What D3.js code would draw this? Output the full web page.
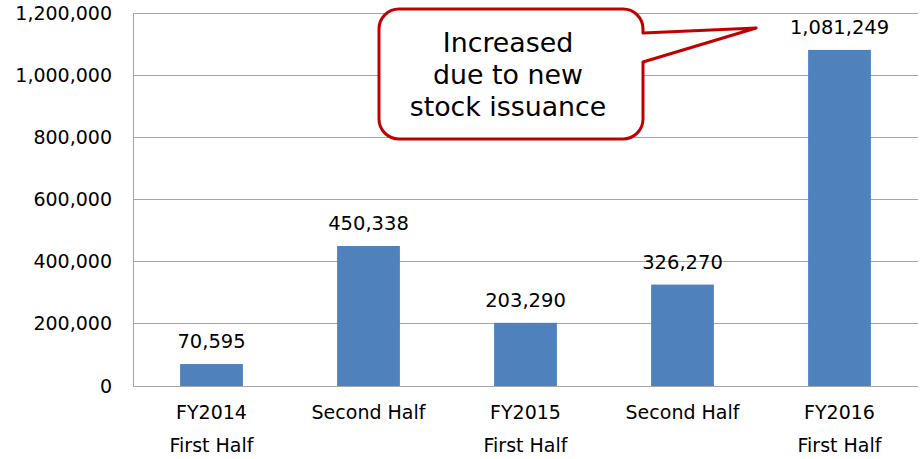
<!DOCTYPE html>
<html>
<head>
<meta charset="utf-8">
<script src="https://cdn.jsdelivr.net/npm/d3@7"></script>
<style>
  html, body { margin: 0; padding: 0; background: #fff; }
  svg { display: block; font-family: "DejaVu Sans", Verdana, sans-serif; }
</style>
</head>
<body>
<svg id="chart" width="921" height="459"></svg>
<script>
const categories = ["FY2014\nFirst Half", "Second Half", "FY2015\nFirst Half", "Second Half ", "FY2016\nFirst Half"];
const values = [70595, 450338, 203290, 326270, 1081249];
const yTicks = [0, 200000, 400000, 600000, 800000, 1000000, 1200000];
const calloutLines = ["Increased", "due to new", "stock issuance"];

const svg = d3.select("#chart");
const margin = { left: 133, right: 3, top: 13, bottom: 73 };
const W = 921, H = 459;

const x = d3.scaleBand().domain(categories).range([margin.left, W - margin.right]).paddingInner(0.6).paddingOuter(0.3);
const y = d3.scaleLinear().domain([0, 1200000]).range([H - margin.bottom, margin.top]);

const fmt = d3.format(",");
const FS = 19;

// gridlines
svg.append("g")
  .selectAll("line").data(yTicks.slice(1)).join("line")
  .attr("x1", margin.left).attr("x2", W - margin.right)
  .attr("y1", d => y(d)).attr("y2", d => y(d))
  .attr("stroke", "#a6a6a6").attr("stroke-width", 1).attr("shape-rendering", "crispEdges");

// y axis
const yAxis = svg.append("g").attr("transform", `translate(${margin.left},0)`)
  .call(d3.axisLeft(y).tickValues(yTicks).tickFormat(fmt).tickSize(0).tickPadding(21));
yAxis.select(".domain").attr("stroke", "#a6a6a6").attr("shape-rendering", "crispEdges");
yAxis.selectAll("text").attr("font-size", FS).attr("fill", "#000").attr("font-family", "DejaVu Sans, sans-serif");

// x axis baseline
svg.append("line")
  .attr("x1", margin.left).attr("x2", W - margin.right)
  .attr("y1", y(0)).attr("y2", y(0))
  .attr("stroke", "#a6a6a6").attr("shape-rendering", "crispEdges");

// bars
svg.append("g").selectAll("rect").data(values).join("rect")
  .attr("x", (d, i) => x(categories[i]))
  .attr("width", x.bandwidth())
  .attr("y", d => y(d))
  .attr("height", d => y(0) - y(d))
  .attr("fill", "#4f81bd");

// data labels
svg.append("g").selectAll("text").data(values).join("text")
  .attr("x", (d, i) => x(categories[i]) + x.bandwidth() / 2)
  .attr("y", d => y(d) - 16)
  .attr("text-anchor", "middle")
  .attr("font-size", FS + 0.5).attr("fill", "#000")
  .text(d => fmt(d));

// x labels
const xl = svg.append("g").selectAll("text").data(categories).join("text")
  .attr("x", d => x(d) + x.bandwidth() / 2)
  .attr("y", y(0) + 33)
  .attr("text-anchor", "middle")
  .attr("font-size", FS).attr("fill", "#000");
xl.each(function(d) {
  const lines = d.trim().split("\n");
  d3.select(this).selectAll("tspan").data(lines).join("tspan")
    .attr("x", x(d) + x.bandwidth() / 2)
    .attr("dy", (l, i) => i === 0 ? 0 : 33)
    .text(l => l);
});

// callout
const bx0 = 379, bx1 = 643, by0 = 9, by1 = 139, r = 20;
const tipX = x(categories[4]) - 52, tipY = 28;
const tailTop = 33, tailBot = 62;
const path = d3.path();
path.moveTo(bx0 + r, by0);
path.lineTo(bx1 - r, by0);
path.arcTo(bx1, by0, bx1, by0 + r, r);
path.lineTo(bx1, tailTop);
path.lineTo(tipX, tipY);
path.lineTo(bx1, tailBot);
path.lineTo(bx1, by1 - r);
path.arcTo(bx1, by1, bx1 - r, by1, r);
path.lineTo(bx0 + r, by1);
path.arcTo(bx0, by1, bx0, by1 - r, r);
path.lineTo(bx0, by0 + r);
path.arcTo(bx0, by0, bx0 + r, by0, r);
path.closePath();
svg.append("path").attr("d", path.toString())
  .attr("fill", "#fff").attr("stroke", "#c00000").attr("stroke-width", 3).attr("stroke-linejoin", "round");

svg.append("g").selectAll("text").data(calloutLines).join("text")
  .attr("x", 508)
  .attr("y", (d, i) => 52 + i * 32)
  .attr("text-anchor", "middle")
  .attr("font-size", 26.8).attr("fill", "#000")
  .text(d => d);
</script>
</body>
</html>
